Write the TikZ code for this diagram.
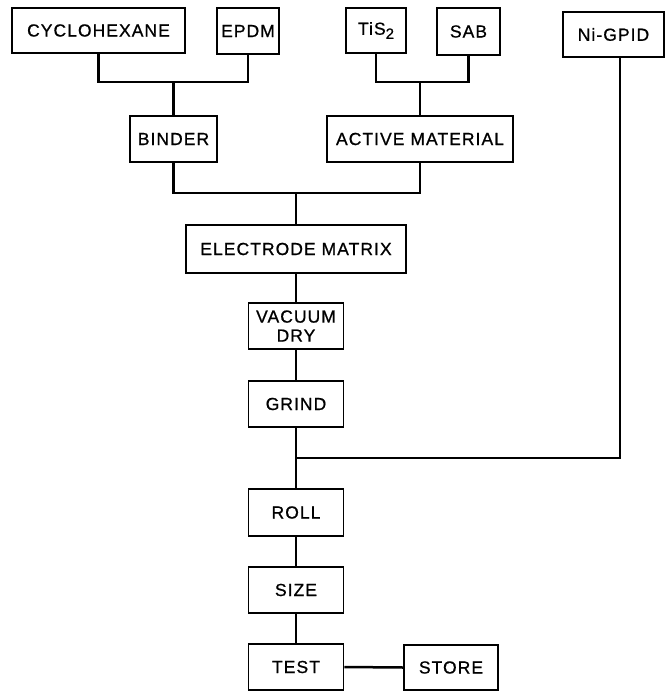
\documentclass[tikz,border=0pt]{standalone}
\usepackage{fontspec}
\setmainfont{Liberation Sans}[LetterSpace=6,FakeBold=0.8]
\begin{document}
\begin{tikzpicture}[x=1pt,y=-1pt,
  box/.style={draw,line width=1.8pt,inner sep=0pt,align=center,
    font=\fontsize{17.5}{19}\selectfont},
  conn/.style={line width=2.5pt}]
\useasboundingbox[fill=white] (0,0) rectangle (666,692);
\node[box,minimum width=173pt,minimum height=45pt] (cyc) at (98.5,30.5) {CYCLOHEXANE};
\node[box,minimum width=62pt,minimum height=46pt] (epdm) at (248,31) {EPDM};
\node[box,minimum width=60pt,minimum height=45pt] (tis) at (376,30.5) {TiS\raisebox{-0.45ex}{\fontsize{15}{15}\selectfont 2}};
\node[box,minimum width=63pt,minimum height=47pt] (sab) at (468.5,31.5) {SAB};
\node[box,minimum width=101pt,minimum height=45pt] (ni) at (613.5,34.5) {Ni-GPID};
\node[box,minimum width=87pt,minimum height=46pt] (binder) at (173.5,139) {BINDER};
\node[box,minimum width=186pt,minimum height=46pt] (am) at (420,139) {ACTIVE MATERIAL};
\node[box,minimum width=220pt,minimum height=48pt] (em) at (296,249) {ELECTRODE MATRIX};
\node[box,minimum width=95pt,minimum height=46pt] (vd) at (296,326) {VACUUM\\DRY};
\node[box,minimum width=95pt,minimum height=46pt] (grind) at (296,404) {GRIND};
\node[box,minimum width=95pt,minimum height=47pt] (roll) at (296,512.5) {ROLL};
\node[box,minimum width=95pt,minimum height=46pt] (size) at (296,590) {SIZE};
\node[box,minimum width=95pt,minimum height=46pt] (test) at (296,667) {TEST};
\node[box,minimum width=94pt,minimum height=45pt] (store) at (451,667.5) {STORE};
\coordinate (j1) at (173.5,82);
\coordinate (j2) at (420,82);
\coordinate (j3) at (296,193);
\coordinate (j4) at (296,458);
\coordinate (nib) at (620,57);
\draw[conn] (cyc.south) |- (j1) -| (epdm.south);
\draw[conn] (j1) -- (binder.north);
\draw[conn] (tis.south) |- (j2) -| (sab.south);
\draw[conn] (j2) -- (am.north);
\draw[conn] (binder.south) |- (j3) -| (am.south);
\draw[conn] (j3) -- (em.north);
\draw[conn] (em.south) -- (vd.north);
\draw[conn] (vd.south) -- (grind.north);
\draw[conn] (grind.south) -- (roll.north);
\draw[conn] (nib) |- (j4);
\draw[conn] (roll.south) -- (size.north);
\draw[conn] (size.south) -- (test.north);
\draw[conn] (test.east) -- (store.west);
\end{tikzpicture}
\end{document}
